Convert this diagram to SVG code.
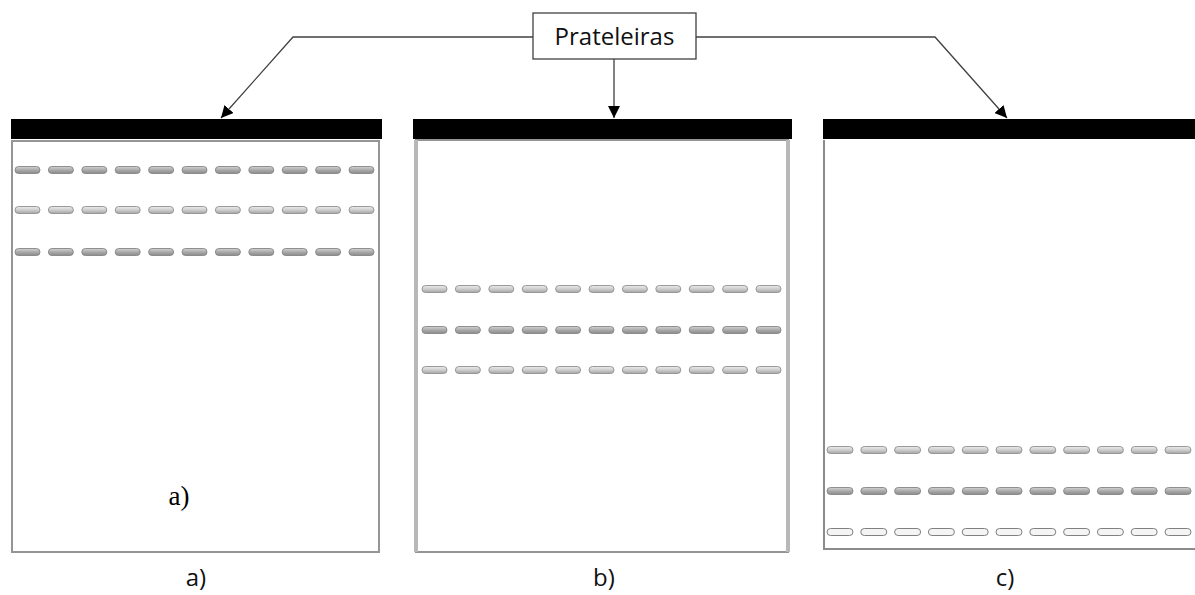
<svg xmlns="http://www.w3.org/2000/svg" width="1195" height="595" viewBox="0 0 1195 595">
  <style>
    .bar { fill: #000; }
    .frame { fill: #fff; stroke: #959595; stroke-width: 2; }
    .side { stroke: #b8b8b8; stroke-width: 4; }
    .dash { fill: url(#dashFill); stroke: #909090; stroke-width: 0.9; }
    .dash-dark { fill: url(#dashDark); stroke: #858585; stroke-width: 0.9; }
    .dash-open { fill: #f4f4f4; stroke: #808080; stroke-width: 1; }
    .conn { fill: none; stroke: #404040; stroke-width: 1.3; }
    .label { font-family: "Open Sans", "Liberation Sans", sans-serif; font-size: 24px; fill: #111; }
    .serif { font-family: "Liberation Serif", "DejaVu Serif", serif; font-size: 27px; fill: #000; }
  </style>
  <defs>
    <linearGradient id="dashFill" x1="0" y1="0" x2="0" y2="1">
      <stop offset="0" stop-color="#ececec"/>
      <stop offset="0.5" stop-color="#cdcdcd"/>
      <stop offset="1" stop-color="#a4a4a4"/>
    </linearGradient>
    <linearGradient id="dashDark" x1="0" y1="0" x2="0" y2="1">
      <stop offset="0" stop-color="#d4d4d4"/>
      <stop offset="0.5" stop-color="#aaaaaa"/>
      <stop offset="1" stop-color="#8a8a8a"/>
    </linearGradient>
    <marker id="arrow" viewBox="0 0 10 10" refX="10" refY="5" markerWidth="12" markerHeight="12" markerUnits="userSpaceOnUse" orient="auto">
      <path d="M0,0 L10,5 L0,10 z" fill="#000"/>
    </marker>
    <!-- one row of eleven shelf slots, 33.4 px apart -->
    <g id="row">
      <rect x="0" y="-3.5" width="25" height="7" rx="3.5"/>
      <rect x="33.4" y="-3.5" width="25" height="7" rx="3.5"/>
      <rect x="66.8" y="-3.5" width="25" height="7" rx="3.5"/>
      <rect x="100.2" y="-3.5" width="25" height="7" rx="3.5"/>
      <rect x="133.6" y="-3.5" width="25" height="7" rx="3.5"/>
      <rect x="167" y="-3.5" width="25" height="7" rx="3.5"/>
      <rect x="200.4" y="-3.5" width="25" height="7" rx="3.5"/>
      <rect x="233.8" y="-3.5" width="25" height="7" rx="3.5"/>
      <rect x="267.2" y="-3.5" width="25" height="7" rx="3.5"/>
      <rect x="300.6" y="-3.5" width="25" height="7" rx="3.5"/>
      <rect x="334" y="-3.5" width="25" height="7" rx="3.5"/>
    </g>
    <!-- slightly wider spacing for the right-hand cabinet -->
    <g id="rowWide">
      <rect x="0" y="-3.5" width="26" height="7" rx="3.5"/>
      <rect x="33.8" y="-3.5" width="26" height="7" rx="3.5"/>
      <rect x="67.6" y="-3.5" width="26" height="7" rx="3.5"/>
      <rect x="101.4" y="-3.5" width="26" height="7" rx="3.5"/>
      <rect x="135.2" y="-3.5" width="26" height="7" rx="3.5"/>
      <rect x="169" y="-3.5" width="26" height="7" rx="3.5"/>
      <rect x="202.8" y="-3.5" width="26" height="7" rx="3.5"/>
      <rect x="236.6" y="-3.5" width="26" height="7" rx="3.5"/>
      <rect x="270.4" y="-3.5" width="26" height="7" rx="3.5"/>
      <rect x="304.2" y="-3.5" width="26" height="7" rx="3.5"/>
      <rect x="338" y="-3.5" width="26" height="7" rx="3.5"/>
    </g>
  </defs>

  <rect width="1195" height="595" fill="#fff"/>

  <!-- connectors from the label box to each cabinet -->
  <g id="connectors">
    <polyline class="conn" points="533,37 293,37 221,118" marker-end="url(#arrow)"/>
    <line class="conn" x1="614" y1="59" x2="614" y2="118" marker-end="url(#arrow)"/>
    <polyline class="conn" points="696,37 935,37 1007,118" marker-end="url(#arrow)"/>
  </g>

  <g id="label-prateleiras">
    <rect x="533" y="13" width="163" height="46" fill="#fff" stroke="#404040" stroke-width="1.3"/>
    <text class="label" x="614.5" y="45" text-anchor="middle">Prateleiras</text>
  </g>

  <!-- cabinet a: shelves near the top -->
  <g id="cabinet-a">
    <rect class="bar" x="11" y="119" width="371" height="20"/>
    <rect class="frame" x="12" y="141" width="367" height="411"/>
    <use href="#row" class="dash-dark" x="15" y="170"/>
    <use href="#row" class="dash" x="15" y="210"/>
    <use href="#row" class="dash-dark" x="15" y="252"/>
    <text class="serif" x="179" y="505" text-anchor="middle">a)</text>
    <text class="label" x="196" y="586" text-anchor="middle">a)</text>
  </g>

  <!-- cabinet b: shelves in the middle -->
  <g id="cabinet-b">
    <rect class="bar" x="413" y="119" width="379" height="20"/>
    <rect class="frame" x="416" y="140" width="372" height="412"/>
    <line class="side" x1="416" y1="140" x2="416" y2="552"/>
    <line class="side" x1="788" y1="140" x2="788" y2="552"/>
    <use href="#row" class="dash" x="422" y="289"/>
    <use href="#row" class="dash-dark" x="422" y="330"/>
    <use href="#row" class="dash" x="422" y="370"/>
    <text class="label" x="604" y="586" text-anchor="middle">b)</text>
  </g>

  <!-- cabinet c: shelves near the bottom, cut off at the right edge -->
  <g id="cabinet-c">
    <rect class="bar" x="823" y="119" width="372" height="20"/>
    <path d="M824,140 V549 H1195" fill="none" stroke="#8c8c8c" stroke-width="2"/>
    <use href="#rowWide" class="dash" x="827" y="450"/>
    <use href="#rowWide" class="dash-dark" x="827" y="491"/>
    <use href="#rowWide" class="dash-open" x="827" y="532"/>
    <text class="label" x="1005" y="586" text-anchor="middle">c)</text>
  </g>
</svg>
